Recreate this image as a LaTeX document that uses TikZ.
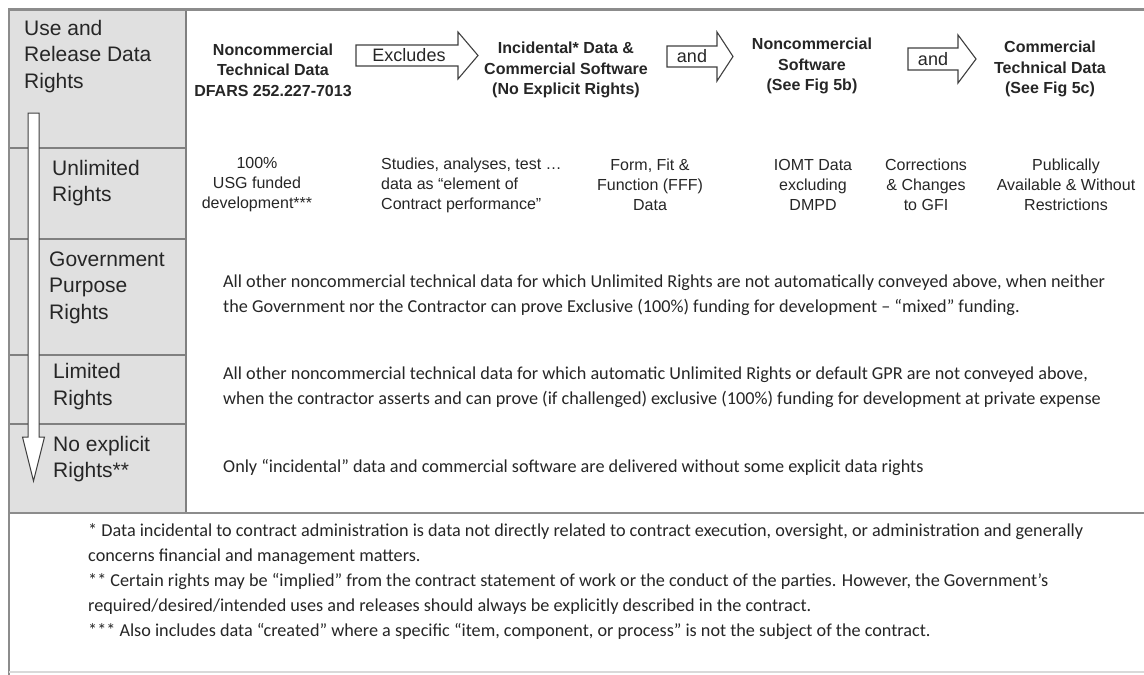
\documentclass[tikz,border=0pt]{standalone}
\usepackage{fontspec}
\setmainfont{Liberation Sans}
\newfontfamily\calfont{Carlito}
\begin{document}
\begin{tikzpicture}[x=1pt,y=-1pt,
  frame/.style={draw=black!45,line width=2.4pt},
  sep/.style={draw=black!50,line width=2pt},
  blockarrow/.style={draw=black!75,line width=1.1pt,fill=white},
  rowlabel/.style={font=\fontsize{21}{26.5}\selectfont,align=left,anchor=west,inner sep=0pt,text=black!85},
  headtext/.style={font=\bfseries\fontsize{16}{20.5}\selectfont,align=center,inner sep=0pt,text=black!85},
  arrowlabel/.style={font=\fontsize{18}{20}\selectfont,inner sep=0pt,text=black!85},
  item/.style={font=\fontsize{16}{20}\selectfont,align=center,inner sep=0pt,text=black!85},
  body/.style={font=\calfont\fontsize{18.2}{25.5}\selectfont,align=left,anchor=west,inner sep=0pt,text=black!85}]
\useasboundingbox (0,0) rectangle (1144,675);
\fill[white] (0,0) rectangle (1144,675);
% gray column
\fill[black!12] (10,10) rectangle (186,513);
\draw[sep] (10,148) -- (186,148);
\draw[sep] (10,239) -- (186,239);
\draw[sep] (10,355) -- (186,355);
\draw[sep] (10,424) -- (186,424);
\draw[sep] (186,10) -- (186,513);
% outer frame
\draw[frame] (9,675) -- (9,9.5) -- (1144,9.5);
\draw[frame] (9,513) -- (1144,513);
\draw[draw=black!15,line width=1.2pt] (9,672) -- (1144,672);
% vertical arrow
\draw[blockarrow,line width=1pt] (28,113) -- (39,113) -- (39,437) -- (44.5,437) -- (33.5,481) -- (22.5,437) -- (28,437) -- cycle;
% row labels
\node[rowlabel] (lhead) at (24,56.5) {Use and\\Release Data\\Rights};
\node[rowlabel] (lunl) at (52,183) {Unlimited\\Rights};
\node[rowlabel] (lgpr) at (49,287.5) {Government\\Purpose\\Rights};
\node[rowlabel] (llim) at (53,386.5) {Limited\\Rights};
\node[rowlabel] (lnone) at (53,459) {No explicit\\Rights**};
% header row
\node[headtext] (h1) at (273,70) {Noncommercial\\Technical Data\\DFARS 252.227-7013};
\node[headtext] (h2) at (566,70) {Incidental* Data \&\\Commercial Software\\(No Explicit Rights)};
\node[headtext] (h3) at (812,66) {Noncommercial\\Software\\(See Fig 5b)};
\node[headtext] (h4) at (1050,69) {Commercial\\Technical Data\\(See Fig 5c)};
\draw[blockarrow] (356,45) -- (458,45) -- (458,32) -- (478,55.5) -- (458,79) -- (458,66) -- (356,66) -- cycle;
\node[arrowlabel] (a1) at (409,55.5) {Excludes};
\draw[blockarrow] (667,46) -- (717,46) -- (717,32) -- (733,56.5) -- (717,81) -- (717,67) -- (667,67) -- cycle;
\node[arrowlabel] (a2) at (692,56.5) {and};
\draw[blockarrow] (908,48) -- (958,48) -- (958,35) -- (976,59) -- (958,83) -- (958,70) -- (908,70) -- cycle;
\node[arrowlabel] (a3) at (933,59) {and};
% unlimited items
\node[item] (u1) at (257,185) {100\%\\USG funded\\development***};
\node[item,align=left,anchor=west] (u2) at (381,185) {Studies, analyses, test \dots\\data as “element of\\Contract performance”};
\node[item] (u3) at (650,185) {Form, Fit \&\\Function (FFF)\\Data};
\node[item] (u4) at (813,185) {IOMT Data\\excluding\\DMPD};
\node[item] (u5) at (926,185) {Corrections\\\& Changes\\to GFI};
\node[item] (u6) at (1066,185) {Publically\\Available \& Without\\Restrictions};
% body texts
\node[body] (tgpr) at (223,295) {All other noncommercial technical data for which Unlimited Rights are not automatically conveyed above, when neither\\the Government nor the Contractor can prove Exclusive (100\%) funding for development – “mixed” funding.};
\node[body] (tlim) at (223,387) {All other noncommercial technical data for which automatic Unlimited Rights or default GPR are not conveyed above,\\when the contractor asserts and can prove (if challenged) exclusive (100\%) funding for development at private expense};
\node[body] (tnone) at (223,467) {Only “incidental” data and commercial software are delivered without some explicit data rights};
% footnotes
\node[body,font=\calfont\fontsize{18.2}{25}\selectfont] (fn) at (88,582) {* Data incidental to contract administration is data not directly related to contract execution, oversight, or administration and generally\\concerns financial and management matters.\\** Certain rights may be “implied” from the contract statement of work or the conduct of the parties. However, the Government’s\\required/desired/intended uses and releases should always be explicitly described in the contract.\\*** Also includes data “created” where a specific “item, component, or process” is not the subject of the contract.};
\end{tikzpicture}
\end{document}
